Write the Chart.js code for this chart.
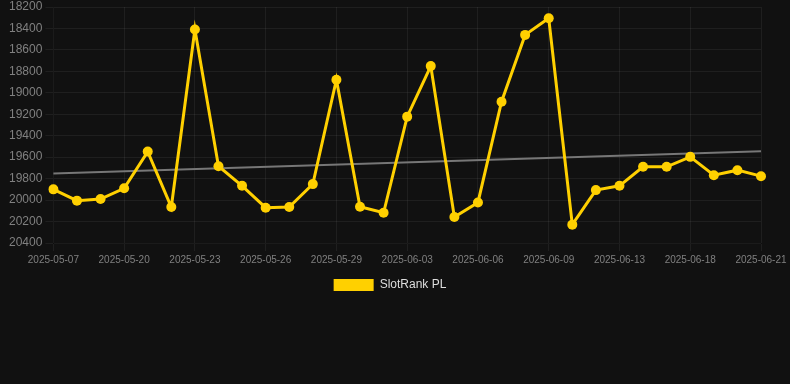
<!DOCTYPE html>
<html>
<head>
<meta charset="utf-8">
<script src="https://cdn.jsdelivr.net/npm/chart.js@4"></script>
<style>
  html, body { margin: 0; padding: 0; background: #111111; overflow: hidden; }
  #wrap { width: 790px; height: 303px; position: relative; margin-top: -2px; }
</style>
</head>
<body>
<div id="wrap"><canvas id="rankChart"></canvas></div>
<script>
// dates on the x axis (every third one is labelled)
const dates = [
  '2025-05-07', '2025-05-12', '2025-05-16', '2025-05-20', '2025-05-21', '2025-05-22',
  '2025-05-23', '2025-05-24', '2025-05-25', '2025-05-26', '2025-05-27', '2025-05-28',
  '2025-05-29', '2025-05-30', '2025-06-01', '2025-06-03', '2025-06-04', '2025-06-05',
  '2025-06-06', '2025-06-07', '2025-06-08', '2025-06-09', '2025-06-10', '2025-06-11',
  '2025-06-13', '2025-06-15', '2025-06-16', '2025-06-18', '2025-06-19', '2025-06-20',
  '2025-06-21'
];

// rank values (lower is better, axis is reversed)
const rankPL = [
  19900, 20005, 19990, 19890, 19548, 20065, 18410, 19684, 19867, 20071, 20065,
  19851, 18878, 20062, 20118, 19222, 18751, 20158, 20022, 19083, 18460, 18305,
  20229, 19907, 19867, 19690, 19690, 19597, 19768, 19721, 19777
];

// trend line end points
const trendStart = 19752;
const trendEnd = 19545;

const yTicks = [18200, 18400, 18600, 18800, 19000, 19200, 19400, 19600, 19800, 20000, 20200, 20400];

const trendData = dates.map((d, i) => {
  if (i === 0) return trendStart;
  if (i === dates.length - 1) return trendEnd;
  return null;
});

const gridColor = 'rgba(255, 255, 255, 0.06)';
const labelColor = '#808080';

const ctx = document.getElementById('rankChart').getContext('2d');
new Chart(ctx, {
  type: 'line',
  data: {
    labels: dates,
    datasets: [{
      label: 'SlotRank PL',
      data: rankPL,
      borderColor: '#FFD000',
      backgroundColor: '#FFD000',
      borderWidth: 3,
      pointRadius: 5,
      pointHoverRadius: 5,
      pointBackgroundColor: '#FFD000',
      pointBorderWidth: 0,
      tension: 0
    }, {
      label: 'Trend',
      data: trendData,
      borderColor: '#777777',
      borderWidth: 2,
      pointRadius: 0,
      spanGaps: true,
      tension: 0
    }]
  },
  options: {
    responsive: true,
    maintainAspectRatio: false,
    animation: false,
    layout: {
      padding: { left: 6, right: 16, top: 0, bottom: 0 }
    },
    plugins: {
      legend: {
        position: 'bottom',
        labels: {
          color: '#dddddd',
          boxWidth: 40,
          boxHeight: 12,
          font: { size: 12, family: 'Arial' },
          filter: item => item.text !== 'Trend',
          generateLabels: chart => {
            const items = Chart.defaults.plugins.legend.labels.generateLabels(chart);
            items.forEach(it => { it.lineWidth = 0; });
            return items;
          }
        }
      },
      tooltip: { enabled: false }
    },
    scales: {
      x: {
        grid: {
          color: c => (c.index % 3 === 0 ? gridColor : 'transparent')
        },
        afterFit: axis => {
          axis.paddingRight = 29;
        },
        ticks: {
          color: labelColor,
          font: { size: 10, family: 'Arial' },
          autoSkip: false,
          maxRotation: 0,
          callback: function (value, index) {
            return index % 3 === 0 ? this.getLabelForValue(value) : '';
          }
        }
      },
      y: {
        reverse: true,
        min: yTicks[0],
        max: yTicks[yTicks.length - 1],
        grid: { color: gridColor },
        afterBuildTicks: axis => {
          axis.ticks = yTicks.map(v => ({ value: v }));
        },
        ticks: {
          color: labelColor,
          font: { size: 12, family: 'Arial', lineHeight: 1 },
          callback: v => String(v)
        }
      }
    }
  }
});
</script>
</body>
</html>
